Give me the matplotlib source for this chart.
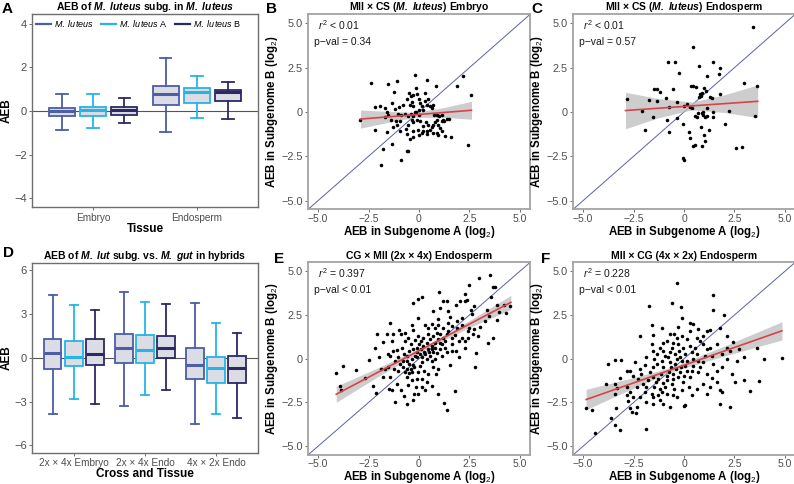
import numpy as np
import matplotlib
matplotlib.use('Agg')
import matplotlib.pyplot as plt
from matplotlib.lines import Line2D

plt.rcParams['font.family'] = 'Liberation Sans'
plt.rcParams['mathtext.fontset'] = 'custom'
plt.rcParams['mathtext.rm'] = 'Liberation Sans'
plt.rcParams['mathtext.it'] = 'Liberation Sans:italic'
plt.rcParams['mathtext.bf'] = 'Liberation Sans:bold:italic'

# ---- box plot summaries: [whisker low, q1, median, q3, whisker high]
tissues = ['Embryo', 'Endosperm']
a_lut = [[-0.86, -0.25, -0.02, 0.15, 0.78], [-0.98, 0.28, 0.78, 1.15, 2.42]]
a_lutA = [[-0.80, -0.22, 0.05, 0.20, 0.78], [-0.31, 0.38, 0.86, 1.03, 1.62]]
a_lutB = [[-0.55, -0.18, 0.05, 0.17, 0.58], [-0.35, 0.45, 0.86, 0.98, 1.35]]

crosses = ['2x × 4x Embryo', '2x × 4x Endo', '4x × 2x Endo']
d_lut = [[-3.82, -0.78, 0.30, 1.28, 4.30], [-3.32, -0.39, 0.64, 1.60, 4.49], [-4.56, -1.44, -0.50, 0.64, 3.73]]
d_lutA = [[-2.86, -0.60, 0.07, 1.12, 3.62], [-2.54, -0.39, 0.55, 1.58, 3.80], [-3.87, -1.72, -0.69, 0.05, 2.38]]
d_lutB = [[-3.14, -0.48, 0.25, 1.28, 3.27], [-2.22, -0.02, 0.66, 1.51, 3.64], [-4.12, -1.70, -0.71, 0.11, 1.67]]

# ---- scatter points (subgenome A, subgenome B)
b_points = [(-2.38,1.64),(-1.55,1.58),(-1.07,1.73),(-0.2,2.1),(0.38,1.82),(0.84,1.45),(2.19,2.01),(1.86,1.45),(2.56,0.98),
    (-1.22,1.13),(-0.51,1.07),(-0.41,0.88),(-0.28,0.98),(-0.08,1.02),(-0.58,0.75),(0.02,0.75),(0.3,0.64),(-0.17,1.35),
    (-0.35,0.56),(-0.45,0.41),(-0.78,0.41),(-1.0,0.26),(-1.17,0.19),(-1.35,0.51),(-1.68,0.23),(-1.93,0.32),(-2.16,0.3),
    (-1.6,0.0),(-1.52,-0.15),(-1.4,-0.43),(-1.67,-0.3),(-1.04,-0.11),(-0.91,-0.15),(-0.69,-0.11),(-0.56,-0.21),(-0.41,-0.11),
    (-0.28,-0.24),(-0.15,0.0),(-0.02,0.09),(0.13,0.32),(0.21,0.13),(0.38,0.41),(0.54,0.34),(0.63,0.23),(0.71,0.41),
    (0.87,-0.15),(1.01,-0.24),(1.16,-0.15),(1.2,-0.43),(1.37,-0.38),(1.5,-0.38),(0.91,-0.43),(0.79,-0.56),(0.71,-0.71),
    (0.63,-0.86),(0.46,-0.71),(0.33,-0.58),(0.21,-0.81),(0.05,-0.53),(-0.12,-0.43),(-0.28,-0.56),(-0.36,-0.43),(-0.53,-0.71),
    (-0.64,-0.94),(-0.58,-1.24),(-0.45,-1.5),(-0.28,-1.43),(-0.61,-2.22),(-0.53,-2.22),(-0.91,-2.69),(-1.35,-1.8),(-1.77,-2.07),
    (-1.86,-3.0),(-1.57,-1.15),(-2.16,-1.02),(-1.1,-0.71),(-0.94,-0.49),(-0.94,-1.09),(-1.27,-0.86),(-1.16,-0.53),(0.71,-1.2),
    (0.87,-1.17),(0.92,-1.28),(1.12,-1.09),(1.3,-1.33),(1.57,-1.43),(0.41,-1.24),(0.13,-1.18),(0.0,-1.32),(2.44,-1.88),
    (-2.92,-0.43),(0.96,-0.71),(1.04,-0.9),(0.45,0.75),(0.3,1.07),(0.05,0.51),(-0.28,0.32),(-0.2,0.0),(-0.02,-0.15),
    (0.74,-0.15),(1.14,-0.49),(1.25,-0.53),(0.54,-1.0),(0.38,-1.05),(0.21,-1.05),(-0.03,-1.0),(-0.28,-1.09)]

c_points = [(3.44,4.8),(0.43,3.67),(-0.78,2.8),(-0.43,2.8),(-0.23,2.17),(0.76,2.58),(1.42,2.8),(1.79,2.49),(1.75,2.13),
    (1.16,2.0),(-1.49,1.32),(-1.32,1.32),(-1.17,1.11),(-0.56,1.3),(0.33,1.49),(0.46,1.45),(0.58,1.39),(0.99,1.34),(1.07,1.17),
    (0.89,1.07),(0.79,1.02),(0.76,0.83),(0.86,0.89),(1.29,0.85),(1.37,0.77),(1.8,1.0),(3.6,1.45),(2.98,1.64),(-2.84,0.73),
    (-1.72,0.66),(-1.36,0.62),(-0.89,0.77),(-0.33,0.58),(0.02,0.36),(0.17,0.43),(0.3,0.28),(0.38,0.21),(-0.73,0.28),
    (-2.1,0.04),(-1.52,-0.28),(-0.86,-0.47),(-0.36,-0.36),(-0.07,-0.66),(-1.92,-1.0),(-0.73,-1.11),(0.26,-1.15),(0.3,-1.45),
    (0.43,-1.9),(0.55,-1.88),(0.83,-0.85),(0.99,-1.3),(1.06,-1.64),(1.26,-1.04),(0.88,-1.94),(-0.07,-2.62),(0.02,-2.69),
    (2.56,-2.02),(2.89,-1.98),(2.02,-0.68),(2.21,0.06),(1.42,0.0),(1.45,-0.28),(0.96,-0.19),(1.04,-0.28),(0.89,-0.06),
    (0.69,-0.06),(0.63,-0.28),(0.55,-0.24),(0.96,-0.02),(1.12,-0.24),(3.52,-0.21),(1.16,0.23)]

e_points = [(-4.1,-0.81),(-3.76,-0.39),(-3.93,-1.56),(-3.88,-1.77),(-3.1,-0.64),(-2.69,-1.09),(-2.27,-1.56),(-2.14,-1.94),
    (-2.19,0.6),(-2.49,-0.06),(-2.06,1.41),(-1.97,0.11),(-1.77,0.94),(-1.58,1.43),(-1.44,2.03),(-1.53,0.26),(-1.44,0.13),
    (-1.56,-0.45),(-1.44,-1.05),(-1.49,-1.71),(-1.19,-2.46),(-1.36,-1.8),(-1.69,-0.58),(-1.23,-0.58),(-1.19,-0.15),(-1.06,-0.71),
    (-1.0,1.62),(-0.91,1.39),(-1.28,1.43),(-1.11,0.49),(-0.86,0.6),(-0.75,0.26),(-0.7,1.02),(-0.78,-0.49),(-0.7,-0.77),
    (-0.61,-1.05),(-0.53,-1.52),(-0.73,-2.14),(-0.58,-2.56),(-0.28,-2.37),(-0.23,-2.03),(-0.03,-2.03),(-0.17,-1.62),(-0.36,-1.24),
    (-0.5,-0.83),(-0.41,-0.6),(-0.28,-0.34),(-0.5,-0.3),(-0.61,-0.15),(-0.36,-0.02),(-0.2,0.17),(-0.12,0.36),(-0.28,0.55),
    (-0.41,0.83),(-0.2,1.05),(-0.07,1.3),(-0.28,1.62),(-0.36,1.95),(-0.03,2.33),(-0.28,3.18),(-0.03,3.42),(0.13,3.55),
    (0.3,1.92),(0.46,1.73),(0.63,1.99),(0.71,2.71),(0.96,2.29),(1.04,2.89),(1.21,3.27),(1.01,3.83),(1.38,3.27),(1.46,2.71),
    (1.54,2.37),(1.43,2.05),(1.63,1.86),(1.84,3.08),(2.04,3.27),(2.29,3.27),(2.29,3.68),(2.4,3.36),(2.49,4.21),(2.59,2.8),
    (2.75,2.99),(2.62,2.56),(2.95,4.59),(3.53,4.81),(3.66,4.12),(3.78,4.12),(3.57,3.55),(3.86,3.08),(4.2,3.08),(4.53,2.99),
    (4.31,2.61),(3.95,2.67),(3.37,2.8),(3.45,2.42),(3.86,2.24),(3.28,2.18),(3.03,1.8),(2.75,1.67),(2.49,1.77),(2.42,1.58),
    (2.7,1.39),(2.92,1.3),(3.65,1.2),(3.42,0.92),(2.82,0.3),(2.79,-0.49),(1.63,0.83),(1.84,0.45),(1.96,0.08),(1.38,0.41),
    (1.54,-0.34),(1.79,-1.84),(1.24,-2.52),(1.38,-2.93),(0.96,-1.99),(0.63,-1.56),(0.38,-1.33),(0.3,-1.8),(0.13,-1.15),
    (0.27,-0.68),(0.46,-0.86),(0.71,-0.49),(0.96,-0.58),(0.85,-0.9),(0.05,-0.39),(0.13,-0.21),(0.38,-0.02),(0.55,0.17),
    (0.71,0.36),(0.91,0.3),(1.04,0.55),(1.13,0.83),(1.29,1.02),(1.21,1.2),(1.04,1.39),(0.88,1.48),(0.71,1.3),(0.55,1.11),
    (0.38,0.92),(0.22,0.73),(0.1,0.55),(0.27,0.36),(0.46,0.55),(0.63,0.73),(0.8,0.92),(0.96,1.11),(1.38,1.39),(1.63,1.2),
    (1.46,1.58),(1.87,1.73),(2.12,1.95),(2.12,2.33),(1.87,2.14),(1.21,1.77),(0.96,1.95),(0.8,1.73),(0.46,1.39),(0.22,1.2),
    (0.1,1.02),(0.0,0.83),(-0.12,0.64),(0.05,0.26),(-0.12,0.08),(0.13,0.08),(0.3,0.26),(0.51,0.36),(0.63,0.55),(0.8,0.64),
    (1.04,0.92),(0.63,-0.11),(0.8,-0.02),(1.13,0.17),(1.29,0.64),(1.63,0.45),(2.12,1.2),(2.29,1.02),(2.45,1.2),(2.26,0.64),
    (1.96,1.02),(1.79,1.33),(-0.7,1.48),(-0.56,1.2),(-0.5,0.45),(-0.61,0.17),(-1.03,0.08),(-0.95,-0.3),(-0.78,-0.11),
    (-1.28,0.45),(-1.36,1.02),(-1.86,-0.58),(-1.77,-1.05),(-1.11,-1.43),(-0.9,-1.77),(-0.03,-0.77),(-0.12,-1.15),(0.13,-1.62),
    (-0.23,-0.49),(-0.36,-0.77),(-0.61,-0.58)]

f_points = [(-0.36,4.3),(-1.72,2.99),(-0.61,3.18),(-0.17,2.93),(1.43,3.65),(1.43,2.8),(1.96,2.52),(-0.12,2.33),(0.3,2.05),
    (0.43,1.99),(-1.61,1.95),(-1.11,1.73),(-0.28,1.8),(-2.19,1.3),(-1.53,1.35),(-0.7,1.43),(-0.5,1.39),(1.29,1.62),(1.76,1.73),
    (2.12,1.3),(2.42,0.98),(2.7,0.55),(2.95,0.11),(3.62,0.64),(3.95,-0.02),(4.86,0.04),(3.7,-1.3),(3.28,-1.86),(2.54,-1.33),
    (1.79,-1.8),(1.87,-1.9),(1.79,-2.61),(2.29,-2.74),(1.38,-1.09),(1.13,-0.86),(0.96,-1.43),(0.38,-2.09),(0.0,-2.71),
    (0.05,-2.65),(-0.36,-2.18),(-0.7,-2.74),(-1.03,-2.59),(-1.19,-2.37),(-1.53,-2.56),(-1.86,-2.46),(-1.86,-4.02),(-2.32,-2.74),
    (-2.39,-3.12),(-2.6,-3.03),(-2.69,-2.84),(-2.77,-2.41),(-2.85,-2.09),(-3.18,-4.1),(-3.43,-3.78),(-3.6,-3.4),(-3.38,-2.84),
    (-3.43,-1.99),(-3.32,-1.65),(-3.4,-1.43),(-3.18,-1.09),(-2.85,-1.62),(-2.69,-1.9),(-2.85,-0.71),(-2.69,-0.68),(-3.1,-0.08),
    (-3.43,-0.08),(-3.76,-0.3),(-3.85,-1.47),(-4.84,-2.84),(-4.54,-2.93),(-4.43,-4.25),(-2.11,-0.86),(-2.27,-1.15),(-2.02,-1.43),
    (-1.86,-1.62),(-1.77,-1.24),(-1.94,-1.9),(-2.19,-2.18),(-1.61,-1.99),(-1.49,-1.62),(-1.39,-1.33),(-1.56,-1.05),(-1.69,-0.77),
    (-1.53,-0.49),(-1.36,-0.3),(-1.49,-0.02),(-1.56,0.45),(-1.61,0.83),(-1.36,0.26),(-1.19,0.64),(-1.03,0.92),(-1.06,0.45),
    (-0.95,0.17),(-1.11,-0.11),(-1.03,-0.49),(-1.16,-0.86),(-1.28,-1.15),(-1.06,-1.39),(-1.19,-1.71),(-1.11,-1.9),(-0.95,-1.62),
    (-0.86,-1.24),(-0.83,-0.96),(-0.73,-0.77),(-0.66,-0.49),(-0.7,-0.21),(-0.78,0.08),(-0.7,0.36),(-0.61,0.64),(-0.45,0.26),
    (-0.36,-0.02),(-0.45,-0.3),(-0.4,-0.58),(-0.53,-0.86),(-0.56,-1.15),(-0.61,-1.47),(-0.5,-1.71),(-0.28,-1.05),(-0.2,-0.77),
    (-0.17,-0.45),(-0.12,-0.15),(-0.2,0.11),(-0.23,0.45),(-0.28,0.83),(-0.03,0.64),(0.05,0.26),(0.13,-0.11),(0.05,-0.39),
    (0.13,-0.68),(0.0,-0.96),(-0.03,-1.33),(0.27,-1.62),(0.3,-1.05),(0.38,-0.68),(0.46,-0.39),(0.43,-0.02),(0.38,0.36),
    (0.3,0.73),(0.55,0.64),(0.63,0.26),(0.71,-0.11),(0.8,-0.49),(0.71,-0.77),(0.96,-0.21),(1.04,0.17),(1.13,0.55),(0.96,0.83),
    (0.8,1.02),(1.29,0.64),(1.38,0.17),(1.46,-0.3),(1.63,-0.68),(1.87,-0.49),(1.87,0.26),(2.12,-0.02),(2.29,0.45),(1.63,0.83),
    (0.96,1.3),(0.63,1.2),(0.13,1.11),(-0.12,1.3),(-0.36,1.17),(-0.53,0.92),(-0.86,1.02),(-1.89,0.08),(-1.94,-0.34),
    (-2.19,-0.58),(-2.44,-0.21),(-2.52,-0.96),(-2.35,-1.62),(-2.52,-2.18),(-1.53,-2.18),(-1.28,-2.09),(-0.86,-1.99),
    (-0.53,-2.09),(-0.12,-1.8),(0.63,-1.71),(1.29,-1.62),(1.13,-1.99),(1.63,-1.33),(2.37,-0.86),(2.95,-1.24),(2.62,-0.11),
    (2.12,0.64),(1.13,1.58),(0.71,1.67),(0.3,1.58)]

# ---- fitted lines: x positions, fit, lower/upper band
b_fit_x = [-2.9, -1.5, -0.2, 1.2, 2.6]
b_fit_y = [-0.40, -0.275, -0.158, -0.032, 0.094]
b_lo = [-0.91, -0.58, -0.30, -0.30, -0.41]
b_hi = [0.11, 0.03, -0.02, 0.24, 0.60]

c_fit_x = [-2.9, -1.3, 0.4, 2.0, 3.65]
c_fit_y = [0.08, 0.207, 0.342, 0.469, 0.60]
c_lo = [-0.95, -0.34, 0.12, -0.03, -0.32]
c_hi = [1.11, 0.76, 0.56, 0.97, 1.52]

e_fit_x = [-4.1, -2.0, 0.4, 2.5, 4.55]
e_fit_y = [-2.03, -0.755, 0.70, 1.98, 3.22]
e_lo = [-2.49, -1.0, 0.60, 1.78, 2.82]
e_hi = [-1.57, -0.50, 0.80, 2.18, 3.62]

f_fit_x = [-4.85, -2.5, -0.6, 1.8, 4.85]
f_fit_y = [-2.334, -1.382, -0.613, 0.36, 1.594]
f_lo = [-2.91, -1.68, -0.74, 0.09, 1.07]
f_hi = [-1.75, -1.08, -0.48, 0.63, 2.11]

col_lut = '#4B5EA6'
col_A = '#26B4E6'
col_B = '#2C2966'
box_fill = '#DCDCE4'
tick_col = '#4D4D4D'

fig = plt.figure(figsize=(7.94, 4.84), dpi=100)


def style_axes(ax, spine_col, spine_lw, xsize, ysize, xpad):
    for s in ax.spines.values():
        s.set_color(spine_col)
        s.set_linewidth(spine_lw)
    ax.tick_params(labelcolor=tick_col, color='#555555', length=2.5, width=0.6, pad=1.2)
    ax.tick_params(axis='x', labelsize=xsize, pad=xpad)
    ax.tick_params(axis='y', labelsize=ysize)


def box_panel(ax, groups, series, yticks, ylim, title, xlabel):
    n = len(groups)
    base = np.arange(1, n + 1)
    ax.axhline(0, color='#555555', lw=0.8, zorder=0)
    for i, (vals, col) in enumerate(zip(series, [col_lut, col_A, col_B])):
        stats = [dict(whislo=v[0], q1=v[1], med=v[2], q3=v[3], whishi=v[4], fliers=[]) for v in vals]
        ax.bxp(stats, positions=base + (i - 1) * 0.3, widths=0.25, patch_artist=True, showfliers=False,
               manage_ticks=False, capwidths=0.11,
               boxprops=dict(facecolor=box_fill, edgecolor=col, linewidth=1.3),
               whiskerprops=dict(color=col, linewidth=1.3),
               capprops=dict(color=col, linewidth=1.3),
               medianprops=dict(color=col, linewidth=2.2))
    ax.set_xlim(0.41, n + 0.59)
    ax.set_ylim(*ylim)
    ax.set_xticks(base)
    ax.set_xticklabels(groups)
    ax.set_yticks(yticks)
    ax.set_yticklabels([str(t).replace('-', '\u2212') for t in yticks])
    ax.set_ylabel('AEB', fontsize=8.5, fontweight='bold', labelpad=1)
    ax.set_xlabel(xlabel, fontsize=8.5, fontweight='bold', labelpad=0)
    ax.set_title(title, fontsize=7.5, fontweight='bold', pad=2.5)
    style_axes(ax, '#6E6E6E', 1.0, 7.2, 8, 1.2)


def scatter_panel(ax, pts, fx, fy, lo, hi, r2_txt, p_txt, title):
    x, y = np.array(pts).T
    ax.axline((0, 0), slope=1, color='#5A61A8', lw=0.7, zorder=1)
    ax.fill_between(fx, lo, hi, color='#BDBDBD', alpha=0.75, lw=0, zorder=2)
    ax.scatter(x, y, s=6.5, color='black', lw=0, zorder=3)
    ax.plot(fx, fy, color='#D8434B', lw=1.2, zorder=4)
    ax.set_xlim(-5.5, 5.5)
    ax.set_ylim(-5.5, 5.5)
    ticks = [-5, -2.5, 0, 2.5, 5]
    labels = ['\u22125.0', '\u22122.5', '0', '2.5', '5.0']
    ax.set_xticks(ticks)
    ax.set_xticklabels(labels)
    ax.set_yticks(ticks)
    ax.set_yticklabels(labels)
    ax.set_xlabel('AEB in Subgenome A (log$_2$)', fontsize=8.3, fontweight='bold', labelpad=0)
    ax.set_ylabel('AEB in Subgenome B (log$_2$)', fontsize=8.3, fontweight='bold', labelpad=1)
    ax.set_title(title, fontsize=7.5, fontweight='bold', pad=2.5)
    ax.text(0.045, 0.945, r2_txt, transform=ax.transAxes, fontsize=7.5, va='center', ha='left', color='#1A1A1A')
    ax.text(0.027, 0.858, p_txt, transform=ax.transAxes, fontsize=7.5, va='center', ha='left', color='#1A1A1A')
    style_axes(ax, '#A3A3A3', 1.3, 7.5, 7.8, 0.5)


axA = fig.add_axes([0.0403, 0.5713, 0.2846, 0.3988])
box_panel(axA, tissues, [a_lut, a_lutA, a_lutB], [-4, -2, 0, 2, 4], (-4.42, 4.42),
          r'AEB of $\mathbf{M.\ luteus}$ subg. in $\mathbf{M.\ luteus}$', 'Tissue')
handles = [Line2D([], [], color=c, lw=1.6) for c in (col_lut, col_A, col_B)]
axA.legend(handles, [r'$\mathit{M.\ luteus}$', r'$\mathit{M.\ luteus}$ A', r'$\mathit{M.\ luteus}$ B'],
           loc='upper center', bbox_to_anchor=(0.47, 1.025), ncol=3, frameon=False, fontsize=6.5,
           handlelength=1.7, handletextpad=0.3, columnspacing=0.8)

axD = fig.add_axes([0.0403, 0.0647, 0.2846, 0.3926])
box_panel(axD, crosses, [d_lut, d_lutA, d_lutB], [-6, -3, 0, 3, 6], (-6.5, 6.5),
          r'AEB of $\mathbf{M.\ lut}$ subg. vs. $\mathbf{M.\ gut}$ in hybrids', 'Cross and Tissue')

axB = fig.add_axes([0.3879, 0.5672, 0.2796, 0.4030])
scatter_panel(axB, b_points, b_fit_x, b_fit_y, b_lo, b_hi, '$r^2$ < 0.01', 'p\u2212val = 0.34',
              r'MII × CS ($\mathbf{M.\ luteus}$) Embryo')
axC = fig.add_axes([0.7217, 0.5672, 0.2796, 0.4030])
scatter_panel(axC, c_points, c_fit_x, c_fit_y, c_lo, c_hi, '$r^2$ < 0.01', 'p\u2212val = 0.57',
              r'MII × CS ($\mathbf{M.\ luteus}$) Endosperm')
axE = fig.add_axes([0.3879, 0.0600, 0.2796, 0.3977])
scatter_panel(axE, e_points, e_fit_x, e_fit_y, e_lo, e_hi, '$r^2$ = 0.397', 'p\u2212val < 0.01',
              'CG × MII (2x × 4x) Endosperm')
axF = fig.add_axes([0.7217, 0.0600, 0.2796, 0.3977])
scatter_panel(axF, f_points, f_fit_x, f_fit_y, f_lo, f_hi, '$r^2$ = 0.228', 'p\u2212val < 0.01',
              'MII × CG (4x × 2x) Endosperm')

for letter, (px, py) in zip('ABCDEF', [(2, 2), (266, 2), (531, 2), (3, 246), (274, 252), (541, 252)]):
    fig.text(px / 794, 1 - py / 484, letter, fontsize=11, fontweight='bold', ha='left', va='top')

fig.savefig('out.png', dpi=100)
